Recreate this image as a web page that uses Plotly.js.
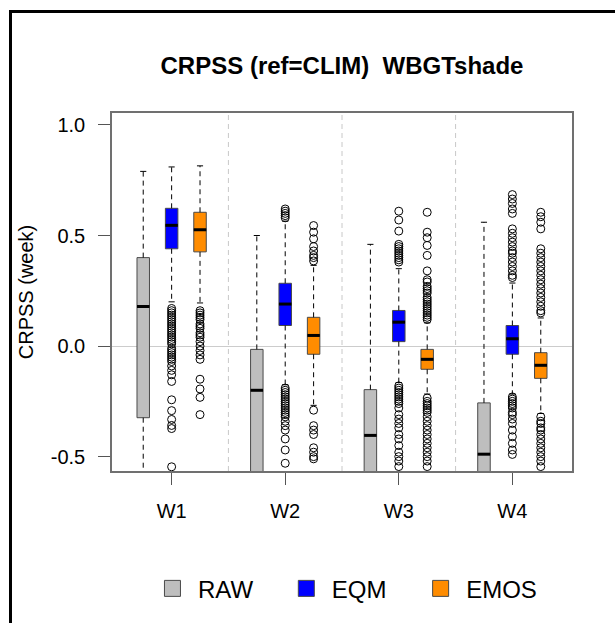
<!DOCTYPE html>
<html>
<head>
<meta charset="utf-8">
<script src="https://cdn.plot.ly/plotly-3.0.1.min.js"></script>
<style>
html,body{margin:0;padding:0;background:#fff;}
#chart{width:615px;height:623px;}
#frame{position:absolute;left:9px;top:10px;width:700px;height:700px;border-top:3px solid #000;border-left:3px solid #000;pointer-events:none;}
</style>
</head>
<body>
<div id="chart"></div>
<div id="frame"></div>
<script>
// ---------------- data ----------------
const weeks = ['W1', 'W2', 'W3', 'W4'];
const seriesNames = ['RAW', 'EQM', 'EMOS'];
const yTickVals = [-0.5, 0, 0.5, 1];
const yTickText = ['-0.5', '0.0', '0.5', '1.0'];

// RAW
const rawUpper  = [0.79, 0.50, 0.46, 0.56];
const rawQ3     = [0.40, -0.015, -0.197, -0.257];
const rawMedian = [0.179, -0.20, -0.404, -0.489];
const rawQ1     = [-0.324, -0.70, -0.78, -0.82];
const rawLower  = [-0.62, -1.00, -1.00, -1.00];
const rawOut    = [[], [], [], []];

// EQM
const eqmUpper  = [0.81, 0.565, 0.35, 0.285];
const eqmQ3     = [0.623, 0.284, 0.161, 0.093];
const eqmMedian = [0.546, 0.19, 0.108, 0.033];
const eqmQ1     = [0.44, 0.093, 0.02, -0.037];
const eqmLower  = [0.20, -0.175, -0.165, -0.217];
const eqmOut = [
  [0.17, 0.16, 0.15, 0.14, 0.13, 0.12, 0.11, 0.10, 0.09, 0.08, 0.07, 0.06, 0.05, 0.04, 0.03, 0.02, 0.01, -0.01, -0.02, -0.03, -0.04, -0.05, -0.06, -0.07, -0.09, -0.11, -0.13, -0.16, -0.243, -0.292, -0.332, -0.359, -0.373, -0.546],
  [0.62, 0.61, 0.60, 0.59, 0.58, -0.19, -0.20, -0.21, -0.22, -0.23, -0.24, -0.25, -0.26, -0.27, -0.28, -0.29, -0.30, -0.31, -0.32, -0.34, -0.36, -0.38, -0.42, -0.47, -0.53],
  [0.61, 0.57, 0.52, 0.46, 0.45, 0.44, 0.43, 0.42, 0.41, 0.40, 0.39, 0.38, -0.18, -0.19, -0.20, -0.21, -0.22, -0.23, -0.24, -0.25, -0.26, -0.28, -0.31, -0.33, -0.35, -0.37, -0.40, -0.42, -0.45, -0.48, -0.50, -0.52, -0.545],
  [0.685, 0.665, 0.645, 0.62, 0.60, 0.53, 0.51, 0.49, 0.47, 0.45, 0.43, 0.42, 0.40, 0.38, 0.36, 0.34, 0.32, 0.31, -0.23, -0.24, -0.25, -0.26, -0.27, -0.28, -0.30, -0.31, -0.33, -0.35, -0.38, -0.41, -0.44, -0.47, -0.49]
];

// EMOS
const emosUpper  = [0.815, 0.365, 0.105, 0.127];
const emosQ3     = [0.605, 0.13, -0.015, -0.03];
const emosMedian = [0.526, 0.048, -0.06, -0.087];
const emosQ1     = [0.426, -0.037, -0.105, -0.146];
const emosLower  = [0.195, -0.268, -0.217, -0.305];
const emosOut = [
  [0.16, 0.15, 0.14, 0.13, 0.12, 0.10, 0.09, 0.08, 0.06, 0.05, 0.04, 0.02, 0.0, -0.02, -0.04, -0.06, -0.15, -0.194, -0.232, -0.31],
  [0.545, 0.515, 0.485, 0.45, 0.43, 0.41, 0.40, 0.385, -0.29, -0.36, -0.38, -0.40, -0.46, -0.48, -0.50, -0.51],
  [0.605, 0.515, 0.49, 0.455, 0.41, 0.34, 0.30, 0.29, 0.27, 0.26, 0.25, 0.24, 0.22, 0.21, 0.20, 0.19, 0.18, 0.17, 0.16, 0.15, 0.14, 0.13, 0.12, -0.235, -0.25, -0.26, -0.27, -0.28, -0.29, -0.30, -0.32, -0.34, -0.36, -0.38, -0.40, -0.42, -0.44, -0.46, -0.48, -0.50, -0.52, -0.545],
  [0.605, 0.585, 0.56, 0.53, 0.44, 0.42, 0.40, 0.38, 0.36, 0.34, 0.32, 0.30, 0.28, 0.26, 0.24, 0.22, 0.20, 0.18, 0.16, 0.15, -0.32, -0.34, -0.35, -0.37, -0.38, -0.40, -0.42, -0.44, -0.46, -0.48, -0.50, -0.52, -0.545]
];

// ---------------- styling / layout constants ----------------
const FONT = 'Liberation Sans, Arial, Helvetica, sans-serif';
const fillColors = ['#bebebe', '#0000ff', '#ff8c00'];
const seriesOffset = [-0.25, 0, 0.25];   // position of each series inside a week group
const boxWidth = 0.11;
const capHalf = 0.027;
const legendX = [0.076, 0.367, 0.659];
const legendKeys = ['legend', 'legend2', 'legend3'];

const stats = [
  {upper: rawUpper, q3: rawQ3, median: rawMedian, q1: rawQ1, lower: rawLower, out: rawOut},
  {upper: eqmUpper, q3: eqmQ3, median: eqmMedian, q1: eqmQ1, lower: eqmLower, out: eqmOut},
  {upper: emosUpper, q3: emosQ3, median: emosMedian, q1: emosQ1, lower: emosLower, out: emosOut}
];

const traces = [];
seriesNames.forEach((name, s) => {
  const st = stats[s];
  const xs = weeks.map((w, i) => i + 1 + seriesOffset[s]);
  // box body
  traces.push({
    type: 'box', name: name, legendgroup: name, showlegend: false,
    x: xs, q1: st.q1, median: st.median, q3: st.q3,
    lowerfence: st.q1, upperfence: st.q3,
    width: boxWidth, whiskerwidth: 0, boxpoints: false,
    fillcolor: fillColors[s], line: {color: '#4a4a4a', width: 1},
    hoverinfo: 'skip'
  });
  // dashed whiskers
  const wx = [], wy = [], cx = [], cy = [], mx = [], my = [], ox = [], oy = [];
  xs.forEach((x, i) => {
    wx.push(x, x, null, x, x, null);
    wy.push(st.q3[i], st.upper[i], null, st.q1[i], st.lower[i], null);
    cx.push(x - capHalf, x + capHalf, null, x - capHalf, x + capHalf, null);
    cy.push(st.upper[i], st.upper[i], null, st.lower[i], st.lower[i], null);
    mx.push(x - boxWidth / 2, x + boxWidth / 2, null);
    my.push(st.median[i], st.median[i], null);
    st.out[i].forEach(v => { ox.push(x); oy.push(v); });
  });
  traces.push({type: 'scatter', mode: 'lines', x: wx, y: wy, legendgroup: name, showlegend: false,
    line: {color: '#000', width: 1, dash: '5px,4px'}, hoverinfo: 'skip'});
  traces.push({type: 'scatter', mode: 'lines', x: cx, y: cy, legendgroup: name, showlegend: false,
    line: {color: '#000', width: 1}, hoverinfo: 'skip'});
  traces.push({type: 'scatter', mode: 'lines', x: mx, y: my, legendgroup: name, showlegend: false,
    line: {color: '#000', width: 3}, hoverinfo: 'skip'});
  traces.push({type: 'scatter', mode: 'markers', x: ox, y: oy, legendgroup: name, showlegend: false,
    marker: {symbol: 'circle-open', size: 8, color: '#000', line: {width: 1, color: '#000'}},
    hovertemplate: name + ' %{y:.2f}<extra></extra>'});
  // legend entry
  traces.push({type: 'scatter', mode: 'markers', x: [null], y: [null], name: name,
    legendgroup: name, legend: legendKeys[s], showlegend: true,
    marker: {symbol: 'square', size: 16, color: fillColors[s], line: {color: '#4a4a4a', width: 1}}});
});

const shapes = [];
for (let i = 1; i < weeks.length; i++) {
  shapes.push({type: 'line', xref: 'x', yref: 'paper', x0: i + 0.5, x1: i + 0.5, y0: 0, y1: 1,
    layer: 'below', line: {color: '#c8c8c8', width: 1, dash: '5px,4px'}});
}

const layout = {
  width: 615, height: 623,
  margin: {l: 112, r: 43, t: 113, b: 147},
  paper_bgcolor: '#fff', plot_bgcolor: '#fff',
  font: {family: FONT, size: 20, color: '#000'},
  title: {
    text: 'CRPSS (ref=CLIM)\u00a0 WBGTshade',
    font: {family: FONT, size: 24, weight: 'bold', color: '#000'},
    xref: 'paper', x: 0.5, xanchor: 'center',
    yref: 'container', y: 1 - 66 / 623, yanchor: 'middle'
  },
  xaxis: {
    range: [0.475, 4.525], tickvals: weeks.map((w, i) => i + 1), ticktext: weeks,
    showgrid: false, zeroline: false, showline: true, mirror: true,
    linecolor: '#707070', linewidth: 1.5,
    ticks: 'outside', ticklen: 12, tickwidth: 1.2, tickcolor: '#555',
    ticklabelstandoff: 9,
    tickfont: {family: FONT, size: 20, color: '#000'}
  },
  yaxis: {
    range: [-0.565, 1.054], tickvals: yTickVals, ticktext: yTickText,
    showgrid: false, zeroline: true, zerolinecolor: '#cccccc', zerolinewidth: 1.2,
    showline: true, mirror: true, linecolor: '#707070', linewidth: 1.5,
    ticks: 'outside', ticklen: 12, tickwidth: 1.2, tickcolor: '#555',
    ticklabelstandoff: 9,
    tickfont: {family: FONT, size: 20, color: '#000'},
    title: {text: 'CRPSS (week)', font: {family: FONT, size: 20, color: '#000'}, standoff: 12}
  },
  shapes: shapes,
  showlegend: true
};
legendKeys.forEach((k, s) => {
  layout[k] = {
    orientation: 'h', x: legendX[s], xanchor: 'left', xref: 'paper',
    y: -0.329, yanchor: 'middle', yref: 'paper',
    bgcolor: 'rgba(0,0,0,0)', borderwidth: 0, itemwidth: 41,
    font: {family: FONT, size: 24, color: '#000'}
  };
});

Plotly.newPlot('chart', traces, layout, {displayModeBar: false, staticPlot: false});
</script>
</body>
</html>
